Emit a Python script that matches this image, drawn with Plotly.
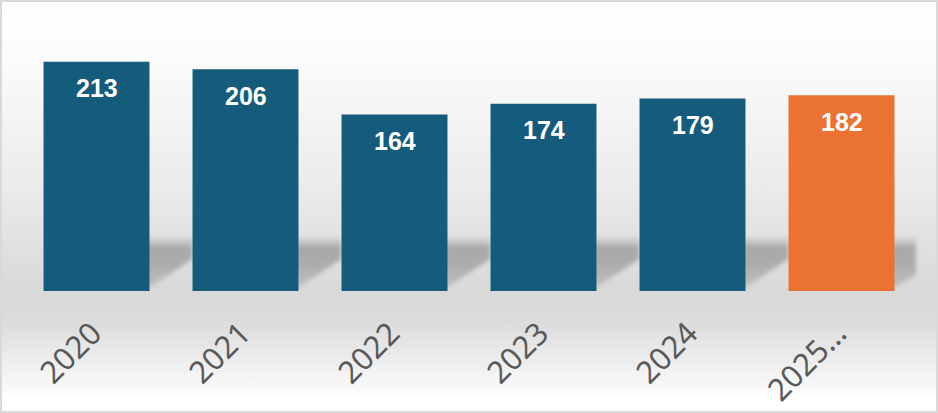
import base64
import plotly.graph_objects as go

categories = ["2020", "2021", "2022", "2023", "2024", "2025…"]
values = [213, 206, 164, 174, 179, 182]
bar_colors = ["#155c7c", "#155c7c", "#155c7c", "#155c7c", "#155c7c", "#ea7232"]

W, H = 938, 413
ML, MR, MT, MB = 22, 22, 22, 122
BARGAP = 0.289
YMAX = 250

pw, ph = W - ML - MR, H - MT - MB
step = pw / len(categories)
bw = step * (1 - BARGAP)
base_y = MT + ph

# decorative background: vertical gradient, floor shadow behind bars, border
polys = []
for i in range(len(categories)):
    xr = ML + step * (i + 0.5) + bw / 2
    w = min(step - bw, ML + pw - xr)
    if w <= 0:
        continue
    x2 = xr + w
    polys.append(
        f'<polygon points="{xr - 4:.1f},236 {x2:.1f},236 {x2:.1f},{base_y - 1 - 0.72 * w:.1f} {xr - 4:.1f},{base_y - 1:.1f}" '
        f'fill="url(#sh)" filter="url(#bl)"/>'
    )
svg = f'''<svg xmlns="http://www.w3.org/2000/svg" width="{W}" height="{H}" viewBox="0 0 {W} {H}" preserveAspectRatio="none">
<defs>
<linearGradient id="bg" x1="0" y1="0" x2="0" y2="{H}" gradientUnits="userSpaceOnUse">
<stop offset="0" stop-color="#ffffff"/>
<stop offset="0.12" stop-color="#fcfcfc"/>
<stop offset="0.45" stop-color="#ebebeb"/>
<stop offset="0.70" stop-color="#d9d9d9"/>
<stop offset="0.78" stop-color="#dcdcdc"/>
<stop offset="0.97" stop-color="#ffffff"/>
<stop offset="1" stop-color="#ffffff"/>
</linearGradient>
<linearGradient id="sh" x1="0" y1="236" x2="0" y2="{base_y}" gradientUnits="userSpaceOnUse">
<stop offset="0" stop-color="#a8a8a8" stop-opacity="0"/>
<stop offset="0.22" stop-color="#a8a8a8" stop-opacity="1"/>
<stop offset="0.55" stop-color="#ababab" stop-opacity="0.95"/>
<stop offset="1" stop-color="#b8b8b8" stop-opacity="0.7"/>
</linearGradient>
<filter id="bl" x="-20%" y="-20%" width="140%" height="140%"><feGaussianBlur stdDeviation="2"/></filter>
</defs>
<rect x="0" y="0" width="{W}" height="{H}" fill="url(#bg)"/>
{''.join(polys)}
<rect x="1" y="1" width="{W - 2}" height="{H - 2}" fill="none" stroke="#d9d9d9" stroke-width="2"/>
</svg>'''
src = "data:image/svg+xml;base64," + base64.b64encode(svg.encode()).decode()

fig = go.Figure(
    go.Bar(
        x=categories,
        y=values,
        marker=dict(color=bar_colors, line=dict(width=0)),
        hoverinfo="x+y",
    )
)

for i, v in enumerate(values):
    fig.add_annotation(
        x=i, y=v, text=f"<b>{v}</b>", showarrow=False,
        yanchor="middle", yshift=-26.5,
        font=dict(family="Liberation Sans, Arial, sans-serif", size=25, color="#ffffff"),
    )

fig.update_layout(
    width=W, height=H,
    margin=dict(l=ML, r=MR, t=MT, b=MB, pad=0, autoexpand=False),
    paper_bgcolor="rgba(0,0,0,0)",
    plot_bgcolor="rgba(0,0,0,0)",
    bargap=BARGAP,
    showlegend=False,
    images=[dict(
        source=src, xref="paper", yref="paper",
        x=-ML / pw, y=1 + MT / ph, sizex=W / pw, sizey=H / ph,
        xanchor="left", yanchor="top", sizing="stretch", layer="below",
    )],
    xaxis=dict(
        type="category", automargin=False, range=[-0.5, len(categories) - 0.5],
        categoryorder="array", categoryarray=categories,
        tickangle=-45, showgrid=False, showline=False, zeroline=False,
        ticks="", ticklabelstandoff=17, ticklabelshift=-4,
        tickfont=dict(family="Noto Sans, Open Sans, sans-serif", size=31, color="#595959"),
    ),
    yaxis=dict(range=[0, YMAX], visible=False, showgrid=False, zeroline=False, automargin=False),
)

fig.write_html(
    "out.html",
    config={"displayModeBar": False},
    post_script="document.body.style.margin='0';document.body.style.padding='0';",
)
